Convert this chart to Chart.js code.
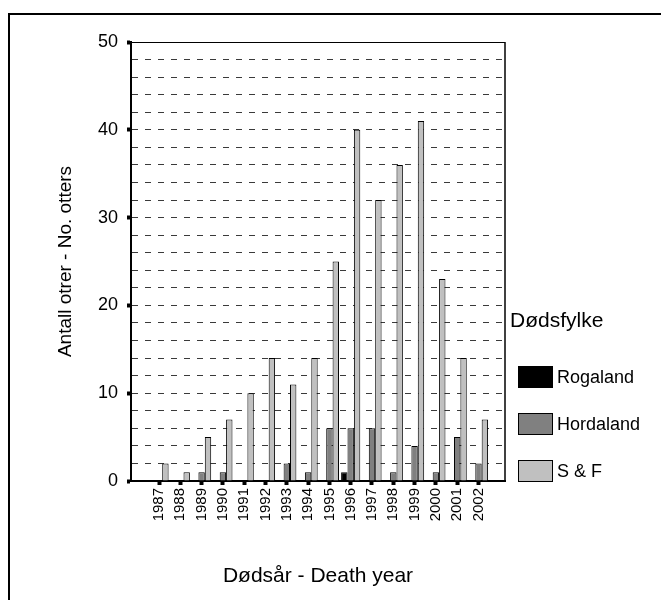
<!DOCTYPE html>
<html>
<head>
<meta charset="utf-8">
<title>Døde oter 1987-2002</title>
<script src="https://cdn.jsdelivr.net/npm/chart.js@4/dist/chart.umd.min.js"></script>
<style>
  body { margin: 0; background: #fff; }
  #wrap { position: relative; width: 661px; height: 600px; }
</style>
</head>
<body>
<div id="wrap"><canvas id="otterChart"></canvas></div>
<script>
const years = [1987, 1988, 1989, 1990, 1991, 1992, 1993, 1994, 1995, 1996, 1997, 1998, 1999, 2000, 2001, 2002];
const rogaland = [0, 0, 0, 0, 0, 0, 0, 0, 0, 1, 0, 0, 0, 0, 0, 0];
const hordaland = [0, 0, 1, 1, 0, 0, 2, 1, 6, 6, 6, 1, 4, 1, 5, 2];
const sognFjordane = [2, 1, 5, 7, 10, 14, 11, 14, 25, 40, 32, 36, 41, 23, 14, 7];
const yTicks = [0, 10, 20, 30, 40, 50];

const FONT = '"Liberation Sans", Arial, sans-serif';
Chart.defaults.font.family = FONT;
Chart.defaults.color = "#000";

// outer frame, plot box and the county legend
const framePlugin = {
  id: "frame",
  beforeDraw(chart) {
    const ctx = chart.ctx;
    ctx.save();
    ctx.fillStyle = "#fff";
    ctx.fillRect(0, 0, chart.width, chart.height);
    ctx.fillStyle = "#000";
    ctx.fillRect(8, 13, 2, chart.height - 13);
    ctx.fillRect(8, 13, chart.width - 8, 2);
    ctx.restore();
  },
  afterDraw(chart) {
    const ctx = chart.ctx;
    const a = chart.chartArea;
    ctx.save();
    ctx.strokeStyle = "#000";
    ctx.lineWidth = 1;
    ctx.beginPath();
    ctx.moveTo(a.left, a.top + 0.5);
    ctx.lineTo(a.right, a.top + 0.5);
    ctx.stroke();
    ctx.lineWidth = 1.5;
    ctx.beginPath();
    ctx.moveTo(a.right, a.top);
    ctx.lineTo(a.right, a.bottom);
    ctx.stroke();

    ctx.fillStyle = "#000";
    ctx.textBaseline = "middle";
    ctx.textAlign = "left";
    ctx.font = "21px " + FONT;
    ctx.fillText("Dødsfylke", a.right + 5, 321);
    ctx.font = "18px " + FONT;
    chart.data.datasets.forEach((ds, i) => {
      const top = 366 + i * 47;
      ctx.fillStyle = ds.backgroundColor;
      ctx.fillRect(a.right + 13, top, 35, 22);
      ctx.strokeStyle = ds.borderColor;
      ctx.lineWidth = 1;
      ctx.strokeRect(a.right + 13.5, top + 0.5, 34, 21);
      ctx.fillStyle = "#000";
      ctx.fillText(ds.label, a.right + 52, top + 12);
    });
    ctx.restore();
  },
};

new Chart(document.getElementById("otterChart"), {
  type: "bar",
  data: {
    labels: years,
    datasets: [
      {
        label: "Rogaland",
        data: rogaland,
        backgroundColor: "#000000",
        borderColor: "#000000",
        borderWidth: 1,
      },
      {
        label: "Hordaland",
        data: hordaland,
        backgroundColor: "#808080",
        borderColor: "#000000",
        borderWidth: 1,
      },
      {
        label: "S & F",
        data: sognFjordane,
        backgroundColor: "#c0c0c0",
        borderColor: "#000000",
        borderWidth: 1,
      },
    ],
  },
  options: {
    responsive: true,
    maintainAspectRatio: false,
    animation: false,
    layout: {
      padding: { top: 42, right: 156, bottom: 0, left: 0 },
    },
    datasets: {
      bar: { categoryPercentage: 0.9, barPercentage: 1.0 },
    },
    plugins: {
      legend: { display: false },
      tooltip: { enabled: false },
    },
    scales: {
      x: {
        type: "linear",
        min: 1985.685,
        max: 2003.245,
        offset: false,
        afterBuildTicks: (scale) => {
          scale.ticks = years.map((v) => ({ value: v }));
        },
        afterFit: (scale) => {
          scale.height = 119;
        },
        ticks: {
          autoSkip: false,
          minRotation: 90,
          maxRotation: 90,
          padding: 3,
          font: { size: 15 },
          callback: (value) => String(value),
        },
        grid: {
          offset: false,
          drawOnChartArea: false,
          tickLength: 4,
          tickWidth: 4,
          tickColor: "#000",
        },
        border: { display: true, color: "#000", width: 2 },
        title: {
          display: true,
          text: "Dødsår - Death year",
          font: { size: 21 },
          padding: { top: 4, bottom: 11 },
        },
      },
      y: {
        min: 0,
        max: 50,
        afterFit: (scale) => {
          scale.width = 131;
        },
        ticks: {
          stepSize: 2,
          autoSkip: false,
          padding: 9,
          font: { size: 18 },
          callback: (value) => (yTicks.includes(value) ? String(value) : ""),
        },
        grid: {
          color: (c) =>
            c.tick && (c.tick.value === 0 || c.tick.value === 50) ? "rgba(0,0,0,0)" : "#3a3a3a",
          lineWidth: 1,
          tickLength: 4,
          tickWidth: 4,
          tickBorderDash: [],
          tickColor: (c) => (c.tick && yTicks.includes(c.tick.value) ? "#000" : "rgba(0,0,0,0)"),
        },
        border: { display: true, color: "#000", width: 2, dash: [6, 7] },
        title: {
          display: true,
          text: "Antall otrer - No. otters",
          font: { size: 19 },
          padding: { top: 54, bottom: 4 },
        },
      },
    },
  },
  plugins: [framePlugin],
});
</script>
</body>
</html>
